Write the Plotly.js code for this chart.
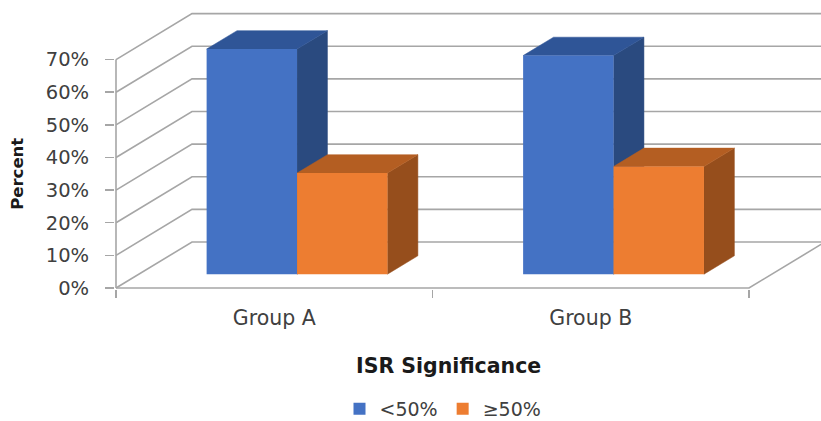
<!DOCTYPE html>
<html>
<head>
<meta charset="utf-8">
<script src="https://cdn.plot.ly/plotly-3.0.1.min.js"></script>
<style>
  html, body { margin: 0; padding: 0; background: #ffffff; }
  #chart { width: 821px; height: 421px; }
</style>
</head>
<body>
<div id="chart"></div>
<script>
// ---- data ----
const categories = ['Group A', 'Group B'];
const seriesNames = ['<50%', '\u226550%'];
const lowShare = [0.69, 0.67];   // <50%
const highShare = [0.31, 0.33];  // >=50%
const yTicks = [0, 0.1, 0.2, 0.3, 0.4, 0.5, 0.6, 0.7];

// ---- styling / projection ----
const FONT = 'DejaVu Sans, Liberation Sans, sans-serif';
const GRID = '#a6a6a6';
const frontColors = ['#4472C4', '#ED7D31'];
const topColors = ['#2F5597', '#B45E22'];
const sideColors = ['#2A4A7F', '#964E1C'];

const PX_PER_CAT = 316.5;      // pixels per category along the floor
const PX_PER_UNIT = 326.3;     // pixels per 100 %
const DX = 76 / PX_PER_CAT;    // oblique depth offset, x units
const DY = 46 / PX_PER_UNIT;   // oblique depth offset, y units
const GAP_WIDTH = 1.5;         // Excel-style gap width
const BAR_W = 1 / (2 + GAP_WIDTH);
const F0 = 0.3, F1 = 0.7;      // bar depth band inside the floor

const M = { l: 115, r: 0, t: 4, b: 132, autoexpand: false };
const plotW = 821 - M.l - M.r;
const plotH = 421 - M.t - M.b;
const xRange = [-1 / PX_PER_CAT, (plotW - 1) / PX_PER_CAT];
const yRange = [-1 / PX_PER_UNIT, (plotH - 1) / PX_PER_UNIT];

const nCat = categories.length;
const values = [lowShare, highShare];
const yMax = yTicks[yTicks.length - 1];

const traces = [];

// walls: side-wall diagonals joined to back-wall gridlines
const gx = [], gy = [];
yTicks.forEach(v => {
  gx.push(0, DX, nCat + DX, null);
  gy.push(v, v + DY, v + DY, null);
});
traces.push({ type: 'scatter', mode: 'lines', x: gx, y: gy,
  line: { color: GRID, width: 1.6 }, hoverinfo: 'skip', showlegend: false });

// floor front edge, floor right edge and the front vertical edge
traces.push({ type: 'scatter', mode: 'lines',
  x: [0, nCat, nCat + DX, null, 0, 0],
  y: [0, 0, DY, null, 0, yMax],
  line: { color: GRID, width: 1.6 }, hoverinfo: 'skip', showlegend: false });

// side and top faces of each column, drawn left to right
function poly(pts) {
  return { x: pts.map(p => p[0]).concat(pts[0][0]), y: pts.map(p => p[1]).concat(pts[0][1]) };
}
for (let c = 0; c < nCat; c++) {
  for (let s = 0; s < values.length; s++) {
    const v = values[s][c];
    const x0 = c + 0.5 + (s === 0 ? -BAR_W : 0);
    const x1 = x0 + BAR_W;
    const side = poly([
      [x1 + F0 * DX, F0 * DY], [x1 + F0 * DX, v + F0 * DY],
      [x1 + F1 * DX, v + F1 * DY], [x1 + F1 * DX, F1 * DY]]);
    const top = poly([
      [x0 + F0 * DX, v + F0 * DY], [x1 + F0 * DX, v + F0 * DY],
      [x1 + F1 * DX, v + F1 * DY], [x0 + F1 * DX, v + F1 * DY]]);
    [[side, sideColors[s]], [top, topColors[s]]].forEach(([p, col]) => {
      traces.push({ type: 'scatter', mode: 'lines', x: p.x, y: p.y,
        fill: 'toself', fillcolor: col, line: { color: col, width: 0.5 },
        hoverinfo: 'skip', showlegend: false });
    });
  }
}

// front faces as bars on an overlaid subplot (same scales)
values.forEach((vals, s) => {
  traces.push({
    type: 'bar', name: seriesNames[s],
    x: categories.map((_, c) => c + 0.5 + F0 * DX),
    y: vals,
    base: vals.map(() => F0 * DY),
    width: vals.map(() => BAR_W),
    offset: vals.map(() => (s === 0 ? -BAR_W : 0)),
    marker: { color: frontColors[s], line: { width: 0 } },
    xaxis: 'x2', yaxis: 'y2',
    hovertemplate: '%{text}<extra></extra>',
    text: vals.map(v => Math.round(v * 100) + '%'),
    textposition: 'none'
  });
});

const layout = {
  width: 821, height: 421,
  margin: M,
  paper_bgcolor: '#ffffff', plot_bgcolor: 'rgba(0,0,0,0)',
  font: { family: FONT, color: '#404040' },
  barmode: 'overlay',
  showlegend: true,
  legend: {
    orientation: 'h', x: (443 - M.l) / plotW, xanchor: 'center',
    y: (M.t + plotH - 409) / plotH, yanchor: 'middle',
    font: { family: FONT, size: 19, color: '#404040' },
    itemwidth: 30, traceorder: 'normal'
  },
  xaxis: {
    range: xRange, fixedrange: true,
    tickvals: categories.map((_, c) => c + 0.5), ticktext: categories,
    ticks: '', showgrid: false, zeroline: false, showline: false,
    tickfont: { family: FONT, size: 20.5, color: '#404040' },
    ticklabelstandoff: 14
  },
  yaxis: {
    range: yRange, fixedrange: true,
    tickvals: yTicks, tickformat: '.0%',
    ticks: 'outside', ticklen: 9, tickwidth: 1.5, tickcolor: GRID,
    showgrid: false, zeroline: false, showline: false,
    tickfont: { family: FONT, size: 19.5, color: '#404040' },
    ticklabelstandoff: 12
  },
  xaxis2: {
    range: xRange, overlaying: 'x', anchor: 'y2', fixedrange: true,
    tickvals: [0, 1, 2], showticklabels: false,
    ticks: 'outside', ticklen: 8, tickwidth: 1.5, tickcolor: GRID,
    showgrid: false, zeroline: false, showline: false
  },
  yaxis2: {
    range: yRange, overlaying: 'y', fixedrange: true, visible: false
  },
  annotations: [
    { text: 'Percent', textangle: -90, showarrow: false,
      xref: 'paper', x: (18 - M.l) / plotW, xanchor: 'center',
      yref: 'y', y: yMax / 2, yanchor: 'middle',
      font: { family: FONT, size: 16.5, color: '#1a1a1a', weight: 'bold' } },
    { text: 'ISR Significance', showarrow: false,
      xref: 'paper', x: (448.6 - M.l) / plotW, xanchor: 'center',
      yref: 'paper', y: (M.t + plotH - 366) / plotH, yanchor: 'middle',
      font: { family: FONT, size: 20.5, color: '#1a1a1a', weight: 'bold' } }
  ]
};

Plotly.newPlot('chart', traces, layout, { displayModeBar: false, staticPlot: true });
</script>
</body>
</html>
